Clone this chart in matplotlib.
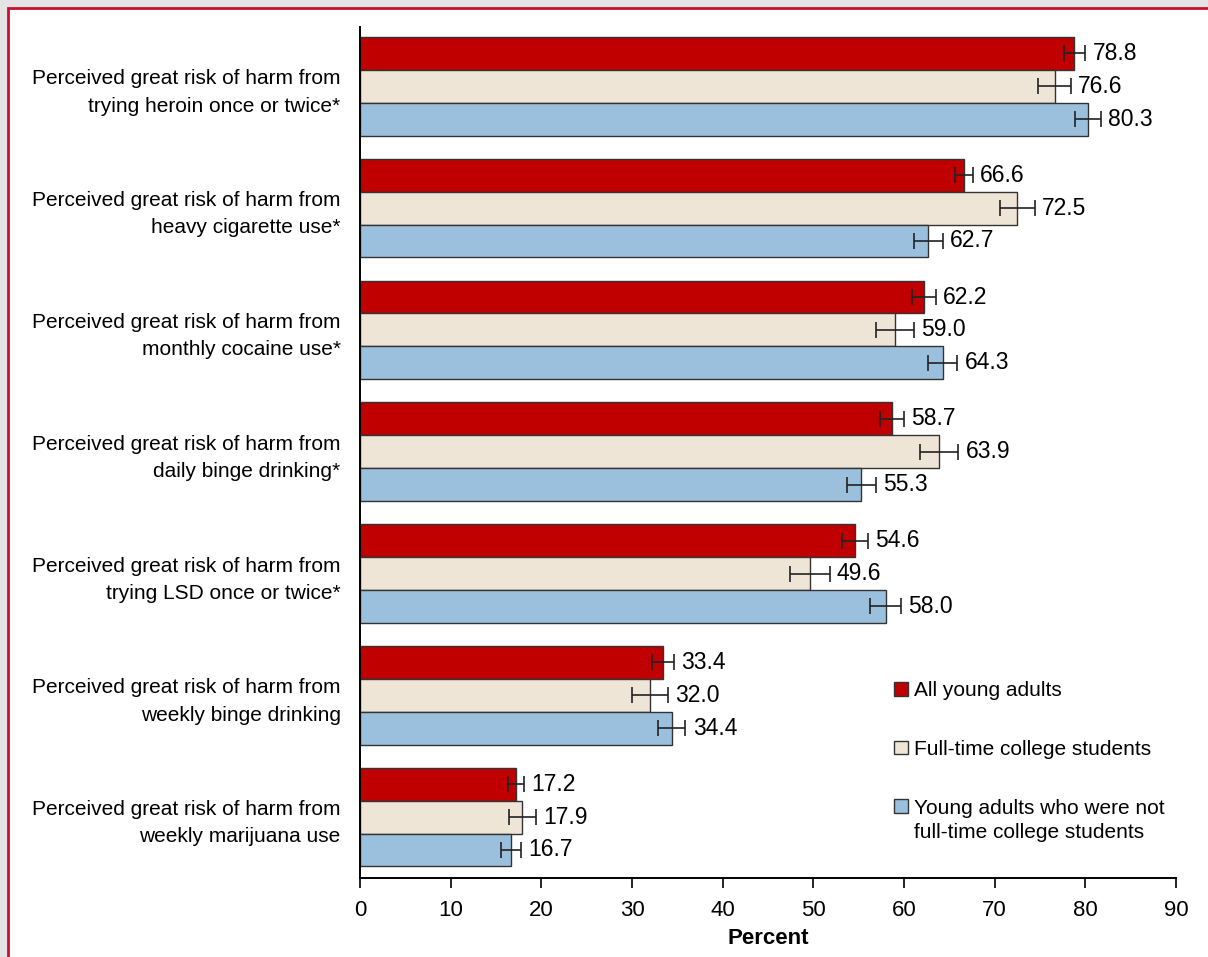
import matplotlib.pyplot as plt
from matplotlib.patches import Rectangle
import numpy as np

plt.rcParams['font.family'] = ['Liberation Sans', 'DejaVu Sans']

# categories, top to bottom
categories = [
    "Perceived great risk of harm from\ntrying heroin once or twice*",
    "Perceived great risk of harm from\nheavy cigarette use*",
    "Perceived great risk of harm from\nmonthly cocaine use*",
    "Perceived great risk of harm from\ndaily binge drinking*",
    "Perceived great risk of harm from\ntrying LSD once or twice*",
    "Perceived great risk of harm from\nweekly binge drinking",
    "Perceived great risk of harm from\nweekly marijuana use",
]

all_young = [78.8, 66.6, 62.2, 58.7, 54.6, 33.4, 17.2]
college = [76.6, 72.5, 59.0, 63.9, 49.6, 32.0, 17.9]
not_college = [80.3, 62.7, 64.3, 55.3, 58.0, 34.4, 16.7]

# error bar half-widths
err_all = [1.2, 1.0, 1.3, 1.3, 1.4, 1.2, 0.9]
err_college = [1.8, 1.9, 2.1, 2.1, 2.2, 2.0, 1.5]
err_not = [1.4, 1.6, 1.6, 1.6, 1.7, 1.5, 1.1]

series_names = ["All young adults", "Full-time college students",
                "Young adults who were not"]
last_line = "full-time college students"
colors = ["#C00000", "#EFE5D6", "#9BC0DD"]

fig = plt.figure(figsize=(12.08, 9.57), dpi=100)
fig.patch.set_facecolor("#E4E4E4")

# white panel with red border
panel = Rectangle((8 / 1208, -0.05), 1.1, 1 - 8 / 957 + 0.05,
                  transform=fig.transFigure, facecolor="white",
                  edgecolor="#C8102E", linewidth=2, zorder=-10)
fig.patches.append(panel)

ax = fig.add_axes([360 / 1208, 79 / 957, 816 / 1208, 851 / 957])
ax.set_facecolor("none")

y = np.arange(len(categories))
h = 0.27
offsets = [-h, 0, h]
data = [all_young, college, not_college]
errs = [err_all, err_college, err_not]

for vals, err, off, col, name in zip(data, errs, offsets, colors, series_names):
    ax.barh(y + off, vals, height=h, color=col, edgecolor="#333333",
            linewidth=1.0, label=name, zorder=2)
    ax.errorbar(vals, y + off, xerr=err, fmt="none", ecolor="#222222",
                elinewidth=1.2, capsize=6, capthick=1.2, zorder=3)
    for v, e, yy in zip(vals, err, y + off):
        ax.text(v + e + 0.8, yy, f"{v:.1f}", va="center", ha="left",
                fontsize=16.5, zorder=4)

ax.set_xlim(0, 90)
ax.set_ylim(6.5, -0.487)
ax.set_xticks(range(0, 91, 10))
ax.set_yticks(y)
ax.set_yticklabels(categories, fontsize=15, ha="right", linespacing=1.55)
ax.tick_params(axis="y", length=0, pad=14)
ax.tick_params(axis="x", length=7, width=1.2, labelsize=16, pad=9, direction="out")
ax.spines["top"].set_visible(False)
ax.spines["right"].set_visible(False)
ax.spines["left"].set_linewidth(1.4)
ax.spines["bottom"].set_linewidth(1.4)
ax.set_xlabel("Percent", fontsize=16, fontweight="bold", labelpad=5)

leg = ax.legend(loc="upper left", bbox_to_anchor=(0.655, 0.231), frameon=False,
                fontsize=15, handlelength=0.63, handleheight=0.63,
                handletextpad=0.3, labelspacing=1.9, borderaxespad=0,
                borderpad=0)

# second line of the last legend entry, aligned with its first line
fig.canvas.draw()
bb = leg.get_texts()[2].get_window_extent()
x0, y0 = fig.transFigure.inverted().transform((bb.x0, bb.y0))
fig.text(x0, y0 - 5 / 957, last_line, fontsize=15, ha="left", va="top")

fig.savefig("out.png", dpi=100, facecolor=fig.get_facecolor())
